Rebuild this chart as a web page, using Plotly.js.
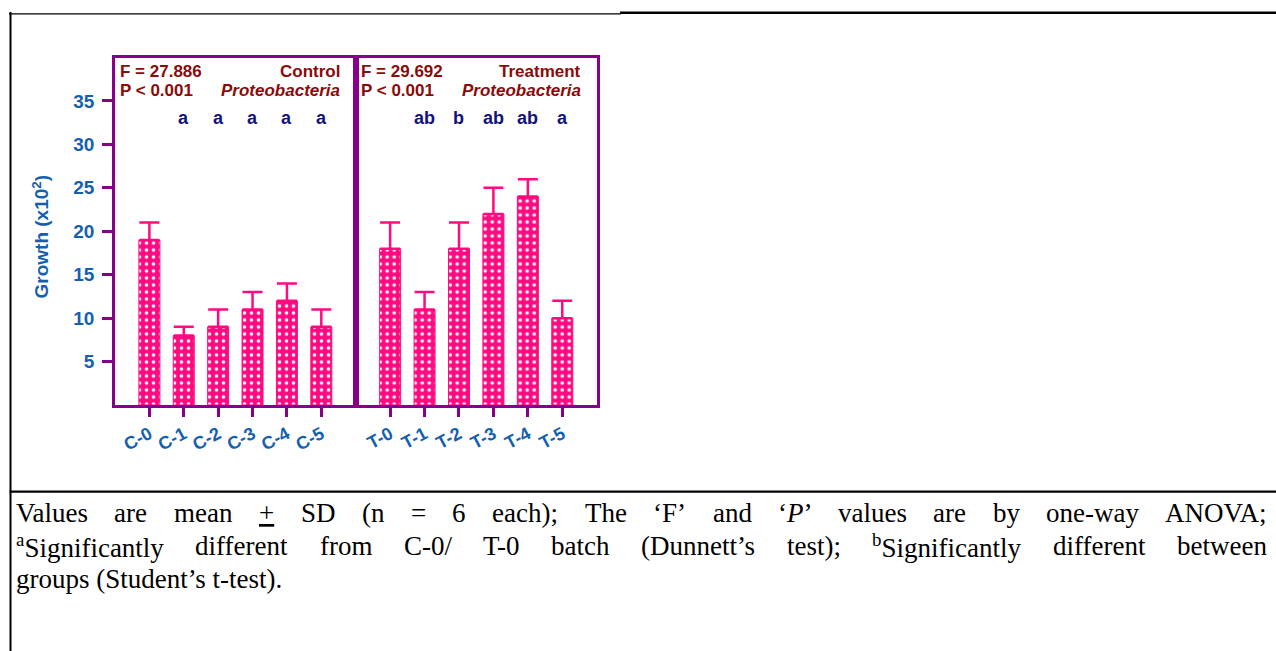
<!DOCTYPE html>
<html><head><meta charset="utf-8">
<script src="https://cdn.plot.ly/plotly-3.0.1.min.js"></script>
<style>html,body{margin:0;padding:0;background:#fff;} #chart{width:1276px;height:651px;}</style>
</head><body><div id="chart"></div>
<script>
// ---- data ----
const categoriesC = ['C-0', 'C-1', 'C-2', 'C-3', 'C-4', 'C-5'];
const meansC = [19, 8, 9, 11, 12, 9];
const sdC = [2, 1, 2, 2, 2, 2];
const lettersC = ['', 'a', 'a', 'a', 'a', 'a'];

const categoriesT = ['T-0', 'T-1', 'T-2', 'T-3', 'T-4', 'T-5'];
const meansT = [18, 11, 18, 22, 24, 10];
const sdT = [3, 2, 3, 3, 2, 2];
const lettersT = ['', 'ab', 'b', 'ab', 'ab', 'a'];

const yTickValues = [5, 10, 15, 20, 25, 30, 35];
const statsF = ['F = 27.886', 'F = 29.692'];
const statsP = ['P < 0.001', 'P < 0.001'];
const groupNames = ['Control', 'Treatment'];
const taxonName = 'Proteobacteria';
const yTitle = 'Growth (x10<sup>2</sup>)';

const captionLine1 = ['Values', 'are', 'mean', '<span style="text-decoration:underline">+</span>', 'SD', '(n', '=', '6', 'each);', 'The', '‘F’', 'and', '‘<i>P</i>’', 'values', 'are', 'by', 'one-way', 'ANOVA;'];
const captionLine2 = ['<sup>a</sup>Significantly', 'different', 'from', 'C-0/', 'T-0', 'batch', '(Dunnett’s', 'test);', '<sup>b</sup>Significantly', 'different', 'between'];
const captionLine3 = 'groups (Student’s t-test).';

// ---- styles ----
const W = 1276, H = 651;
const px = x => x / W;
const py = y => 1 - y / H;
const PURPLE = '#880088';
const PINK = '#FF0A80';
const BLUE = '#1560AE';
const RED = '#8B0A0A';
const NAVY = '#12127F';
const SANS = 'Arial, "Liberation Sans", sans-serif';
const SERIF = '"Times New Roman", "Liberation Serif", serif';
const yMax = 40;

const xL0 = 115, xMid = 355.7, xR1 = 596.7, yTop = 57.5, yBot = 405;

function barTrace(cats, vals, sds, xa, ya) {
  return {
    type: 'bar', x: cats, y: vals, xaxis: xa, yaxis: ya,
    width: 0.61,
    marker: {
      color: PINK,
      line: {color: PINK, width: 1},
      pattern: {shape: '.', fgcolor: '#ffffff', bgcolor: PINK, size: 7, solidity: 0.2, fillmode: 'replace'}
    },
    error_y: {type: 'data', symmetric: false, array: sds, arrayminus: sds.map(() => 0),
      color: PINK, thickness: 2.5, width: 10},
    hoverinfo: 'x+y'
  };
}

const data = [
  barTrace(categoriesC, meansC, sdC, 'x', 'y'),
  barTrace(categoriesT, meansT, sdT, 'x2', 'y2')
];

const xCommon = {
  type: 'category', range: [-1, 6], showline: true, linecolor: PURPLE, linewidth: 2.5, mirror: true,
  ticks: 'outside', ticklen: 9, tickwidth: 2.5, tickcolor: PURPLE, tickangle: -28,
  tickfont: {family: SANS, size: 18, color: BLUE, weight: 'bold'},
  showgrid: false, zeroline: false, fixedrange: true
};
const yDomain = [py(yBot), py(yTop)];

const border = (x0, x1, y0, y1) => ({type: 'rect', xref: 'paper', yref: 'paper', layer: 'above',
  x0: px(x0), x1: px(x1), y0: py(y1), y1: py(y0), fillcolor: '#000000', line: {width: 0}});

const layout = {
  width: W, height: H,
  margin: {l: 0, r: 0, t: 0, b: 0},
  paper_bgcolor: '#ffffff', plot_bgcolor: 'rgba(0,0,0,0)',
  showlegend: false,
  xaxis: Object.assign({}, xCommon, {domain: [px(xL0), px(xMid)], anchor: 'y'}),
  xaxis2: Object.assign({}, xCommon, {domain: [px(xMid), px(xR1)], anchor: 'y2'}),
  yaxis: {
    domain: yDomain, range: [0, yMax], tickvals: yTickValues, anchor: 'x',
    showline: true, linecolor: PURPLE, linewidth: 2.5, mirror: true,
    ticks: 'outside', ticklen: 10, tickwidth: 2.5, tickcolor: PURPLE, ticklabelstandoff: 4,
    tickfont: {family: SANS, size: 19, color: BLUE, weight: 'bold'},
    showgrid: false, zeroline: false, fixedrange: true
  },
  yaxis2: {
    domain: yDomain, range: [0, yMax], matches: 'y', anchor: 'x2',
    showline: true, linecolor: PURPLE, linewidth: 2.5, mirror: true,
    ticks: '', showticklabels: false, showgrid: false, zeroline: false, fixedrange: true
  },
  annotations: [],
  shapes: [
    border(9.5, 11.5, 12, 651),        // left cell border
    border(9.5, 1276, 490.4, 492.8),   // row separator
    border(620, 1276, 11.6, 14),       // top border (right part)
    border(9, 621, 13.2, 14.6)         // top border (left part)
  ]
};

const ann = layout.annotations;
// y axis title
ann.push({xref: 'paper', yref: 'paper', x: px(41), y: py(236.5), text: '<b>' + yTitle + '</b>', textangle: -90,
  showarrow: false, xanchor: 'center', yanchor: 'middle', font: {family: SANS, size: 19, color: BLUE}});

// panel headers
const panelLeft = [xL0 + 3, xMid + 3];
const panelRight = [xMid - 14, xR1 - 14];
for (let i = 0; i < 2; i++) {
  const f = {family: SANS, size: 17, color: RED};
  ann.push({xref: 'paper', yref: 'paper', x: px(panelLeft[i]), y: py(71.7), text: '<b>' + statsF[i] + '</b>', showarrow: false, xanchor: 'left', yanchor: 'middle', font: f});
  ann.push({xref: 'paper', yref: 'paper', x: px(panelLeft[i]), y: py(90), text: '<b>' + statsP[i] + '</b>', showarrow: false, xanchor: 'left', yanchor: 'middle', font: f});
  ann.push({xref: 'paper', yref: 'paper', x: px(panelRight[i]), y: py(71.7), text: '<b>' + groupNames[i] + '</b>', showarrow: false, xanchor: 'right', yanchor: 'middle', font: f});
  ann.push({xref: 'paper', yref: 'paper', x: px(panelRight[i]), y: py(90), text: '<b><i>' + taxonName + '</i></b>', showarrow: false, xanchor: 'right', yanchor: 'middle', font: f});
}

// significance letters
const letterY = 33;
categoriesC.forEach((c, i) => { if (lettersC[i]) ann.push({xref: 'x', yref: 'y', x: c, y: letterY, text: '<b>' + lettersC[i] + '</b>', showarrow: false, font: {family: SANS, size: 18, color: NAVY}}); });
categoriesT.forEach((c, i) => { if (lettersT[i]) ann.push({xref: 'x2', yref: 'y2', x: c, y: letterY, text: '<b>' + lettersT[i] + '</b>', showarrow: false, font: {family: SANS, size: 18, color: NAVY}}); });

// caption (justified lines built word by word)
const CAP_SIZE = 27;
const cvs = document.createElement('canvas');
const ctx = cvs.getContext('2d');
function measureWord(w) {
  let total = 0;
  const supRe = /<sup>(.*?)<\/sup>/g;
  let m;
  while ((m = supRe.exec(w)) !== null) {
    ctx.font = (CAP_SIZE * 0.7) + 'px "Liberation Serif"';
    total += ctx.measureText(m[1]).width;
  }
  const rest = w.replace(/<sup>.*?<\/sup>/g, '').replace(/<[^>]+>/g, '');
  ctx.font = CAP_SIZE + 'px "Liberation Serif"';
  total += ctx.measureText(rest).width;
  return total;
}
function justify(words, left, right, yc) {
  const widths = words.map(measureWord);
  const sum = widths.reduce((a, b) => a + b, 0);
  const gap = Math.max(4, (right - left - sum) / (words.length - 1));
  let x = left;
  words.forEach((w, i) => {
    ann.push({xref: 'paper', yref: 'paper', x: px(x), y: py(yc), text: w, showarrow: false,
      xanchor: 'left', yanchor: 'middle', borderpad: 0, font: {family: SERIF, size: CAP_SIZE, color: '#000'}});
    x += widths[i] + gap;
  });
}
justify(captionLine1, 15, 1266, 513);
justify(captionLine2, 15, 1266, 546);
ann.push({xref: 'paper', yref: 'paper', x: px(15), y: py(579), text: captionLine3, showarrow: false,
  xanchor: 'left', yanchor: 'middle', borderpad: 0, font: {family: SERIF, size: CAP_SIZE, color: '#000'}});

Plotly.newPlot('chart', data, layout, {displayModeBar: false, responsive: false});
</script>
</body></html>
